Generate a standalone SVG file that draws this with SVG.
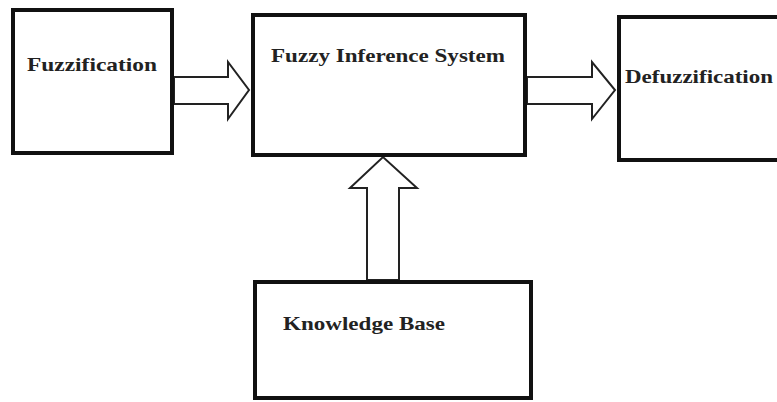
<svg xmlns="http://www.w3.org/2000/svg" width="777" height="402" viewBox="0 0 777 402">
<style>
.box{fill:#fff;stroke:#111;stroke-width:4}
.arr{fill:#fff;stroke:#222;stroke-width:2;stroke-linejoin:miter}
.lbl{font-family:"Liberation Serif","DejaVu Serif",serif;font-weight:bold;font-size:19px;fill:#222}
</style>
<rect width="777" height="402" fill="#fff"/>
<g id="connectors">
<polygon class="arr" points="174,77 228,77 228,62 249,90 228,119 228,104 174,104"/>
<polygon class="arr" points="527,77 592,77 592,62 615,90 592,119 592,104 527,104"/>
<polygon class="arr" points="367,280 367,188 350,188 383,157 417,188 399,188 399,280"/>
</g>
<g id="fuzzification">
<rect class="box" x="13" y="10" width="159" height="143"/>
<text class="lbl" x="27" y="71" textLength="130" lengthAdjust="spacingAndGlyphs">Fuzzification</text>
</g>
<g id="fis">
<rect class="box" x="253" y="15" width="272" height="140"/>
<text class="lbl" x="271" y="62" textLength="234" lengthAdjust="spacingAndGlyphs">Fuzzy Inference System</text>
</g>
<g id="defuzzification">
<rect class="box" x="619" y="17" width="180" height="143"/>
<text class="lbl" x="625" y="83" textLength="148" lengthAdjust="spacingAndGlyphs">Defuzzification</text>
</g>
<g id="knowledge">
<rect class="box" x="255" y="282" width="276" height="116"/>
<text class="lbl" x="283" y="330" textLength="162" lengthAdjust="spacingAndGlyphs">Knowledge Base</text>
</g>
</svg>
